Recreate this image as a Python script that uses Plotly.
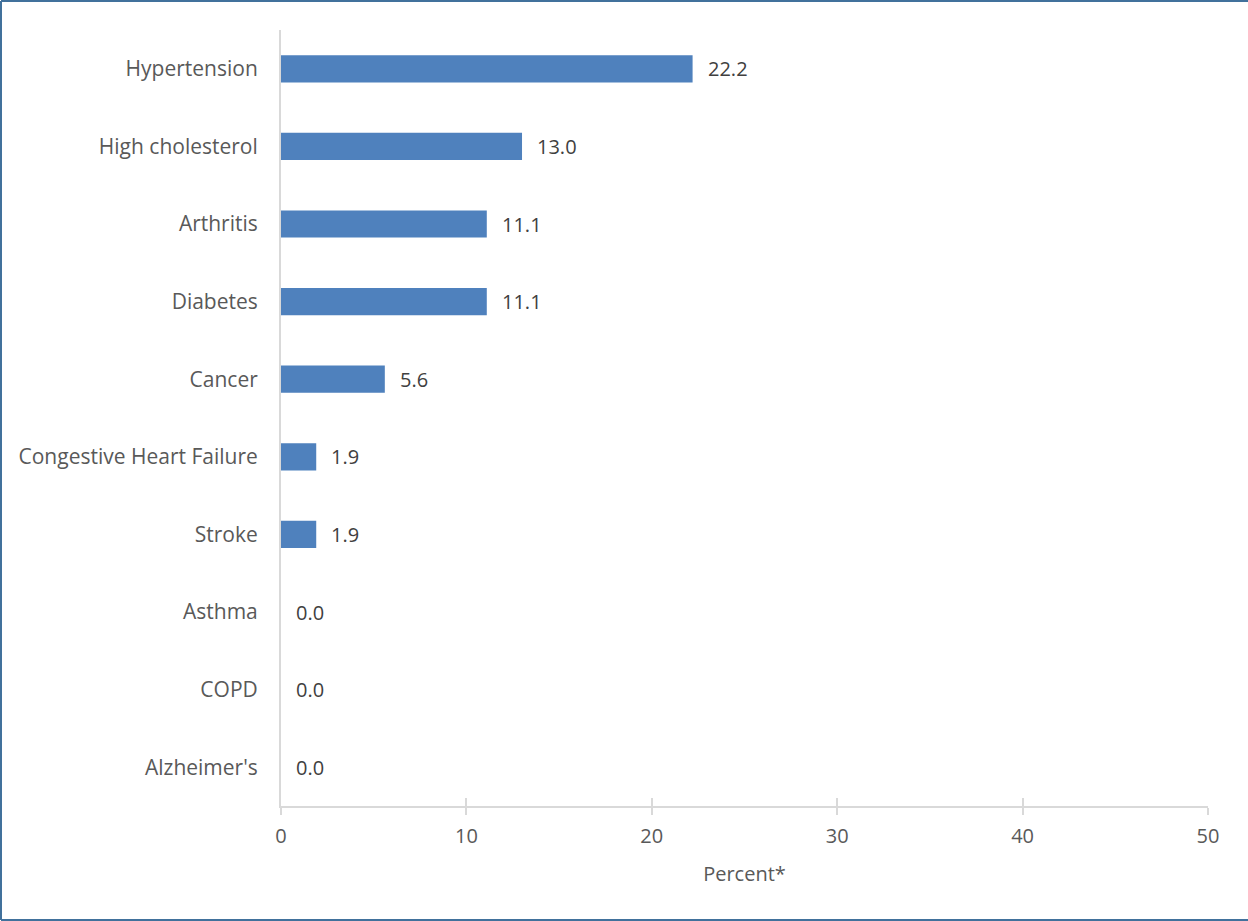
import plotly.graph_objects as go

categories = ["Hypertension", "High cholesterol", "Arthritis", "Diabetes", "Cancer",
              "Congestive Heart Failure", "Stroke", "Asthma", "COPD", "Alzheimer's"]
values = [22.2, 13.0, 11.1, 11.1, 5.6, 1.9, 1.9, 0.0, 0.0, 0.0]
x_ticks = [0, 10, 20, 30, 40, 50]
x_title = "Percent*"

W, H = 1248, 921
L, R, T, B = 281, 40, 30, 115
pw, ph = W - L - R, H - T - B
FONT = "Open Sans"
FS = 20

fig = go.Figure()
fig.add_trace(go.Bar(
    y=categories, x=values, orientation="h",
    marker=dict(color="#4F81BD", line=dict(width=0)),
    width=0.35, hoverinfo="x+y",
))

for c, v in zip(categories, values):
    fig.add_annotation(x=v, y=c, text=f"{v:.1f}", showarrow=False,
                       xanchor="left", xshift=13,
                       font=dict(family=FONT, size=FS, color="#404040"))

# border (top, left, bottom visible; right edge cropped in the reference)
px = lambda p: (p - L) / pw
py = lambda p: (H - B - p) / ph
border = dict(color="#41719C", width=2)
for x0, y0, x1, y1 in [(1, 1, W + 5, 1), (1, 1, 1, 920), (1, 920, W + 5, 920)]:
    fig.add_shape(type="line", xref="paper", yref="paper",
                  x0=px(x0), x1=px(x1), y0=py(y0), y1=py(y1),
                  line=border, layer="above")

fig.update_layout(
    width=W, height=H,
    margin=dict(l=L, r=R, t=T, b=B),
    paper_bgcolor="white", plot_bgcolor="white",
    showlegend=False,
    font=dict(family=FONT, size=FS, color="#595959"),
    xaxis=dict(range=[0, 50], tickvals=x_ticks, ticks="outside", ticklen=7,
               tickcolor="#D9D9D9", tickwidth=2,
               showline=True, linecolor="#D9D9D9", linewidth=2,
               showgrid=False, zeroline=False,
               tickfont=dict(family=FONT, size=FS, color="#595959"),
               ticklabelstandoff=4,
               title=dict(text=x_title, standoff=19,
                          font=dict(family=FONT, size=FS, color="#595959"))),
    xaxis2=dict(range=[0, 50], tickvals=x_ticks, overlaying="x", matches="x",
                ticks="inside", ticklen=8, tickcolor="#D9D9D9", tickwidth=2,
                showticklabels=False, showline=False, showgrid=False,
                zeroline=False, side="bottom"),
    yaxis=dict(autorange="reversed", showline=True, linecolor="#D9D9D9",
               linewidth=2, ticks="", showgrid=False, zeroline=False,
               ticklabelstandoff=17,
               tickfont=dict(family=FONT, size=21, color="#595959")),
)
fig.add_trace(go.Scatter(x=[None], y=[None], xaxis="x2", showlegend=False, hoverinfo="skip"))

fig.write_html("out.html", config={"displayModeBar": False},
               post_script="document.body.style.margin='0';document.body.style.overflow='hidden';")
